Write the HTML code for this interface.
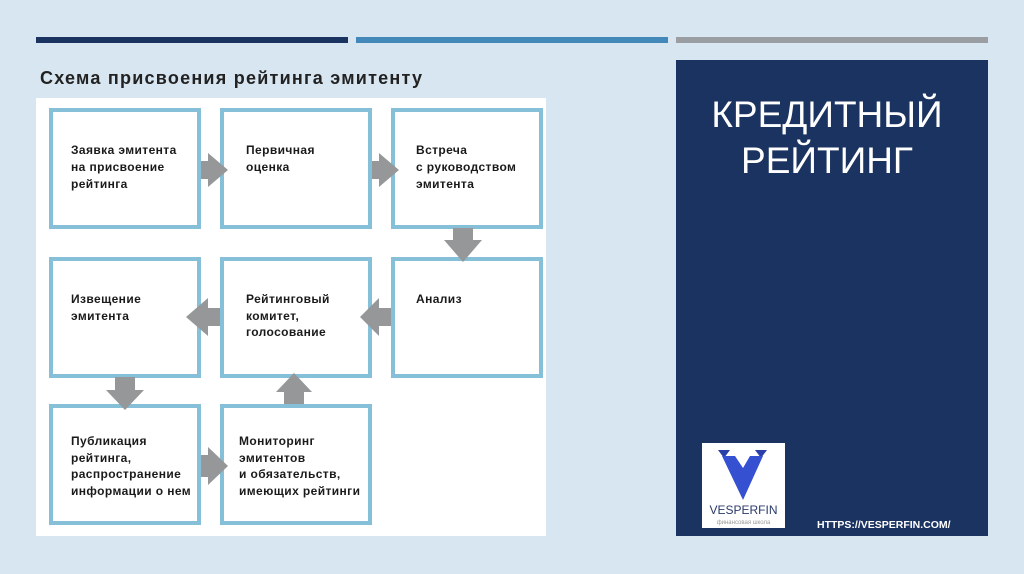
<!DOCTYPE html>
<html><head><meta charset="utf-8"><style>
html,body{margin:0;padding:0;width:1024px;height:574px;overflow:hidden;background:#d7e6f0}
svg{display:block}
</style></head><body>
<svg width="1024" height="574" viewBox="0 0 1024 574" xmlns="http://www.w3.org/2000/svg">
<rect width="1024" height="574" fill="#d7e6f0"/>
<rect x="36" y="37" width="312" height="6" fill="#1b3360"/>
<rect x="356" y="37" width="312" height="6" fill="#4289ba"/>
<rect x="676" y="37" width="312" height="6" fill="#9a9ea3"/>
<text x="40" y="84" font-family="Liberation Sans, sans-serif" font-weight="bold" font-size="18" fill="#222" textLength="382" lengthAdjust="spacing">Схема присвоения рейтинга эмитенту</text>
<rect x="36" y="98" width="510" height="438" fill="#ffffff"/>
<g fill="none" stroke="#86bfd8" stroke-width="4">
<rect x="51" y="110" width="148" height="117"/>
<rect x="222" y="110" width="148" height="117"/>
<rect x="393" y="110" width="148" height="117"/>
<rect x="51" y="259" width="148" height="117"/>
<rect x="222" y="259" width="148" height="117"/>
<rect x="393" y="259" width="148" height="117"/>
<rect x="51" y="406" width="148" height="117"/>
<rect x="222" y="406" width="148" height="117"/>
</g>
<g fill="#959799">
<polygon points="201,161 208,161 208,153 228,170 208,187 208,179 201,179"/>
<polygon points="372,161 379,161 379,153 399,170 379,187 379,179 372,179"/>
<polygon points="453,228 473,228 473,240 482,240 463,262 444,240 453,240"/>
<polygon points="391,308 379,308 379,298 360,317 379,336 379,326 391,326"/>
<polygon points="220,308 208,308 208,298 186,317 208,336 208,326 220,326"/>
<polygon points="115,377 135,377 135,390 144,390 125,410 106,390 115,390"/>
<polygon points="284,404 304,404 304,392 312,392 294,373 276,392 284,392"/>
<polygon points="201,455 208,455 208,447 228,466 208,485 208,477 201,477"/>
</g>
<g font-family="Liberation Sans, sans-serif" font-weight="bold" font-size="12" letter-spacing="0.4" fill="#1a1a1a">
<text x="71" y="154">Заявка эмитента</text>
<text x="71" y="171">на присвоение</text>
<text x="71" y="188">рейтинга</text>
<text x="246" y="154">Первичная</text>
<text x="246" y="171">оценка</text>
<text x="416" y="154">Встреча</text>
<text x="416" y="171">с руководством</text>
<text x="416" y="188">эмитента</text>
<text x="71" y="303">Извещение</text>
<text x="71" y="320">эмитента</text>
<text x="246" y="303">Рейтинговый</text>
<text x="246" y="320">комитет,</text>
<text x="246" y="336">голосование</text>
<text x="416" y="303">Анализ</text>
<text x="71" y="445">Публикация</text>
<text x="71" y="462">рейтинга,</text>
<text x="71" y="478">распространение</text>
<text x="71" y="495">информации о нем</text>
<text x="239" y="445">Мониторинг</text>
<text x="239" y="462">эмитентов</text>
<text x="239" y="478">и обязательств,</text>
<text x="239" y="495">имеющих рейтинги</text>
</g>
<rect x="676" y="60" width="312" height="476" fill="#1b3360"/>
<g font-family="Liberation Sans, sans-serif" font-size="37" fill="#ffffff" text-anchor="middle">
<text x="827" y="127">КРЕДИТНЫЙ</text>
<text x="827" y="173">РЕЙТИНГ</text>
</g>
<rect x="702" y="443" width="83" height="85" fill="#ffffff"/>
<polygon points="718,450 730,450 724,458" fill="#2a3fa8"/>
<polygon points="755,450 767,450 761,458" fill="#2a3fa8"/>
<polygon points="722,456 735,456 743,468 750,456 763,456 743,500" fill="#3550d0"/>
<text x="743.5" y="514" font-family="Liberation Sans, sans-serif" font-size="12" fill="#2a3a6a" text-anchor="middle">VESPERFIN</text>
<text x="743.5" y="524" font-family="Liberation Sans, sans-serif" font-size="6" fill="#999" text-anchor="middle">финансовая школа</text>
<text x="817" y="528" font-family="Liberation Sans, sans-serif" font-weight="bold" font-size="10.5" fill="#ffffff">HTTPS://VESPERFIN.COM/</text>
</svg>
</body></html>
